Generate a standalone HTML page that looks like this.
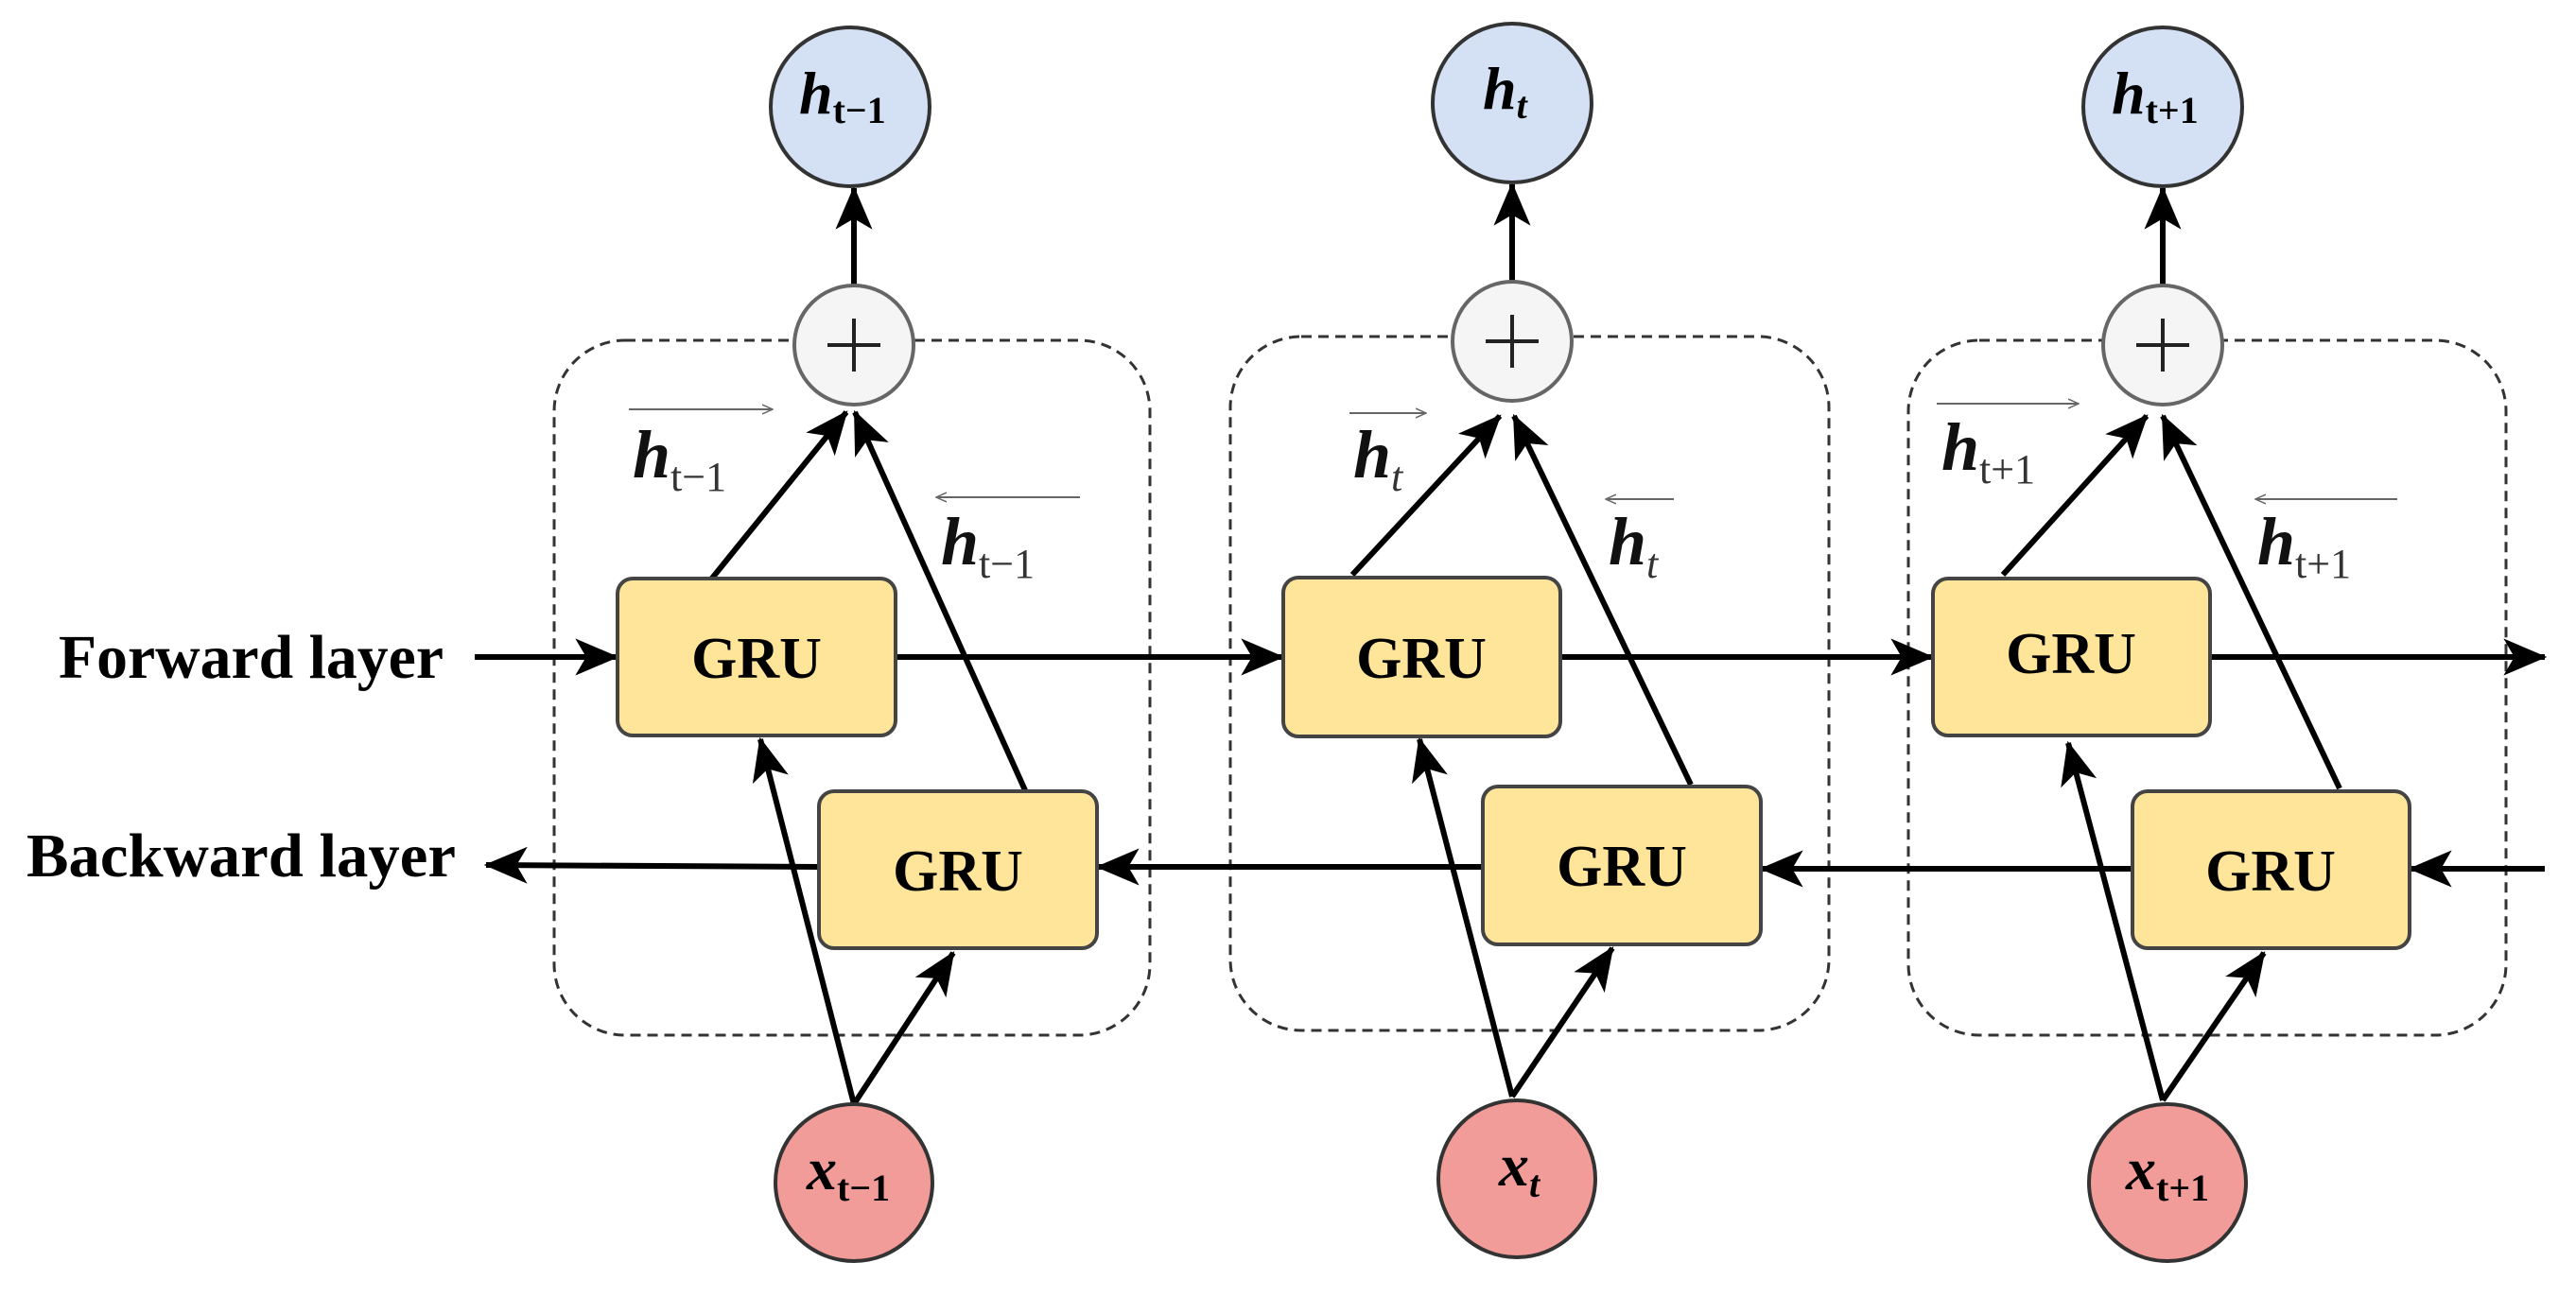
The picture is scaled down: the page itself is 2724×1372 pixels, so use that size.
<!DOCTYPE html>
<html><head><meta charset="utf-8"><style>
html,body{margin:0;padding:0;background:#fff;}
svg{display:block;}
.lbl{font-family:"Liberation Serif",serif;}
</style></head><body>
<svg width="2724" height="1372" viewBox="0 0 2724 1372" xmlns="http://www.w3.org/2000/svg">
<defs>
<marker id="ar" markerUnits="userSpaceOnUse" markerWidth="46" markerHeight="46" viewBox="0 0 40 40" refX="38" refY="20" orient="auto">
<path d="M0,3 L40,20 L0,37 L10,20 Z" fill="#000"/>
</marker>
<marker id="sa" markerUnits="userSpaceOnUse" markerWidth="12" markerHeight="12" viewBox="0 0 12 12" refX="11" refY="6" orient="auto">
<path d="M0,1 L11,6 L0,11" fill="none" stroke="#666" stroke-width="1.5"/>
</marker>
</defs>

<g fill="none" stroke="#333" stroke-width="3" stroke-dasharray="11 7">
<rect x="586" y="360" width="630" height="735" rx="75"/>
<rect x="1301" y="356" width="633" height="734" rx="75"/>
<rect x="2018" y="360" width="632" height="735" rx="75"/>
</g>

<g stroke="#000" stroke-width="6" fill="none" marker-end="url(#ar)">
<line x1="502" y1="695" x2="652" y2="695"/>
<line x1="947" y1="695" x2="1356" y2="695"/>
<line x1="1650" y1="695" x2="2043" y2="695"/>
<line x1="2337" y1="695" x2="2691" y2="695"/>
<line x1="2691" y1="919" x2="2549" y2="919"/>
<line x1="2255" y1="919" x2="1863" y2="919"/>
<line x1="1568" y1="917" x2="1161" y2="917"/>
<line x1="866" y1="917" x2="514" y2="915"/>
<line x1="747" y1="619" x2="895" y2="436"/>
<line x1="1084" y1="836" x2="904" y2="436"/>
<line x1="903" y1="1168" x2="804" y2="782"/>
<line x1="903" y1="1168" x2="1008" y2="1008"/>
<line x1="903" y1="302" x2="903" y2="199"/>
<line x1="1430" y1="608" x2="1586" y2="440"/>
<line x1="1788" y1="830" x2="1601" y2="440"/>
<line x1="1599" y1="1160" x2="1501" y2="782"/>
<line x1="1599" y1="1160" x2="1705" y2="1003"/>
<line x1="1599" y1="298" x2="1599" y2="195"/>
<line x1="2118" y1="608" x2="2270" y2="440"/>
<line x1="2474" y1="834" x2="2287" y2="440"/>
<line x1="2287" y1="1164" x2="2187" y2="786"/>
<line x1="2287" y1="1164" x2="2394" y2="1008"/>
<line x1="2287" y1="302" x2="2287" y2="199"/>
</g>

<g fill="#ffe599" stroke="#444" stroke-width="4">
<rect x="653" y="612" width="294" height="166" rx="16"/>
<rect x="866" y="837" width="294" height="166" rx="16"/>
<rect x="1357" y="611" width="293" height="168" rx="16"/>
<rect x="1568" y="832" width="294" height="167" rx="16"/>
<rect x="2044" y="612" width="293" height="166" rx="16"/>
<rect x="2255" y="837" width="293" height="166" rx="16"/>
</g>
<g class="lbl" font-size="62" font-weight="bold" text-anchor="middle" fill="#000">
<text x="800" y="717">GRU</text>
<text x="1013" y="942">GRU</text>
<text x="1503" y="717">GRU</text>
<text x="1715" y="937">GRU</text>
<text x="2190" y="712">GRU</text>
<text x="2401" y="942">GRU</text>
</g>

<g fill="#f5f5f5" stroke="#666" stroke-width="4">
<circle cx="903" cy="365" r="63"/>
<circle cx="1599" cy="361" r="63"/>
<circle cx="2287" cy="365" r="63"/>
</g>
<g stroke="#222" stroke-width="4">
<path d="M875,365 H931 M903,337 V393"/>
<path d="M1571,361 H1627 M1599,333 V389"/>
<path d="M2259,365 H2315 M2287,337 V393"/>
</g>

<g fill="#d4e1f5" stroke="#333" stroke-width="4">
<circle cx="899" cy="113" r="84"/>
<circle cx="1599" cy="109" r="84"/>
<circle cx="2287" cy="113" r="84"/>
</g>
<g fill="#f19c99" stroke="#333" stroke-width="4">
<circle cx="903" cy="1251" r="83"/>
<circle cx="1604" cy="1247" r="83"/>
<circle cx="2292" cy="1251" r="83"/>
</g>

<g class="lbl" font-style="italic" font-weight="bold" fill="#000">
<text x="845" y="120" font-size="64">h<tspan font-size="40" font-style="normal" dy="10">t−1</tspan></text>
<text x="1568" y="115" font-size="64">h<tspan font-size="40" dy="10">t</tspan></text>
<text x="2233" y="120" font-size="64">h<tspan font-size="40" font-style="normal" dy="10">t+1</tspan></text>
<text x="853" y="1258" font-size="64">x<tspan font-size="40" font-style="normal" dy="12">t−1</tspan></text>
<text x="1585" y="1254" font-size="64">x<tspan font-size="40" dy="12">t</tspan></text>
<text x="2248" y="1258" font-size="64">x<tspan font-size="40" font-style="normal" dy="12">t+1</tspan></text>
</g>

<g class="lbl" fill="#111">
<text x="669" y="505" font-size="72" font-style="italic" font-weight="bold">h<tspan font-size="44" font-weight="normal" font-style="normal" dy="14" fill="#333">t−1</tspan></text>
<text x="995" y="597" font-size="72" font-style="italic" font-weight="bold">h<tspan font-size="44" font-weight="normal" font-style="normal" dy="14" fill="#333">t−1</tspan></text>
<text x="1431" y="505" font-size="72" font-style="italic" font-weight="bold">h<tspan font-size="44" font-weight="normal" font-style="italic" dy="14" fill="#333">t</tspan></text>
<text x="1701" y="597" font-size="72" font-style="italic" font-weight="bold">h<tspan font-size="44" font-weight="normal" font-style="italic" dy="14" fill="#333">t</tspan></text>
<text x="2053" y="497" font-size="72" font-style="italic" font-weight="bold">h<tspan font-size="44" font-weight="normal" font-style="normal" dy="14" fill="#333">t+1</tspan></text>
<text x="2387" y="597" font-size="72" font-style="italic" font-weight="bold">h<tspan font-size="44" font-weight="normal" font-style="normal" dy="14" fill="#333">t+1</tspan></text>
</g>
<g stroke="#666" stroke-width="2" fill="none" marker-end="url(#sa)">
<line x1="665" y1="433" x2="817" y2="433"/>
<line x1="1142" y1="526" x2="990" y2="526"/>
<line x1="1427" y1="437" x2="1508" y2="437"/>
<line x1="1770" y1="528" x2="1698" y2="528"/>
<line x1="2048" y1="427" x2="2198" y2="427"/>
<line x1="2535" y1="528" x2="2385" y2="528"/>
</g>

<g class="lbl" font-weight="bold" font-size="66" fill="#000">
<text x="62" y="717" textLength="407" lengthAdjust="spacingAndGlyphs">Forward layer</text>
<text x="28" y="927" textLength="454" lengthAdjust="spacingAndGlyphs">Backward layer</text>
</g>
</svg>
</body></html>
